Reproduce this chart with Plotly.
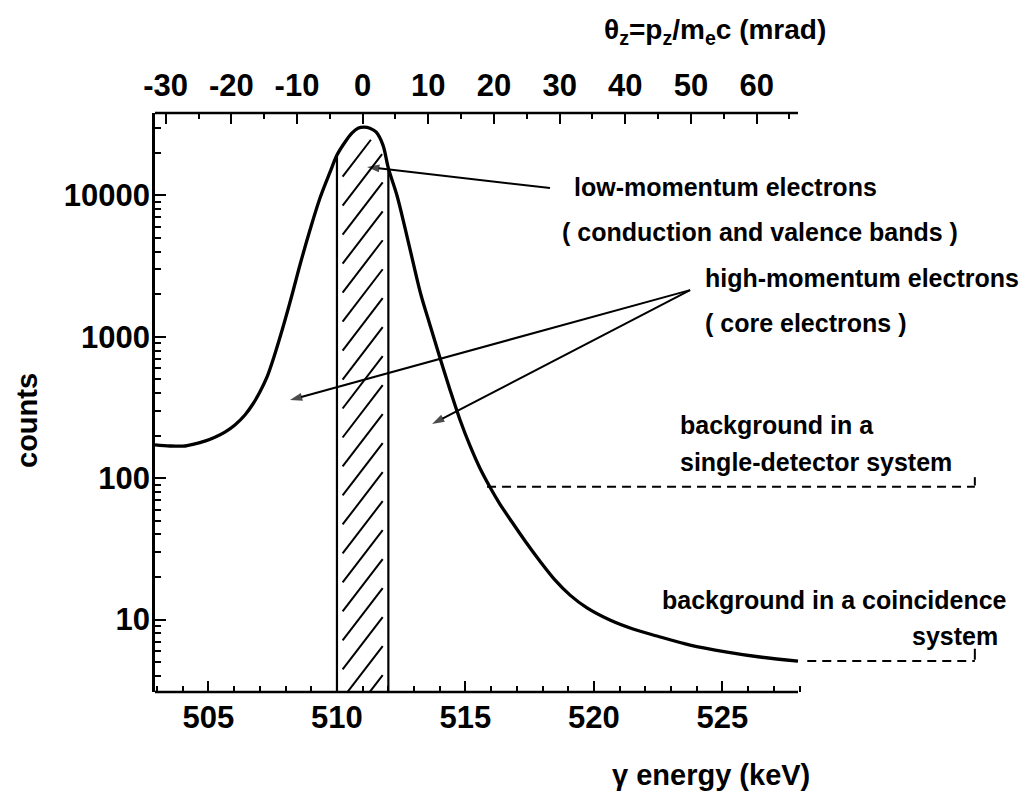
import numpy as np
import plotly.graph_objects as go

# ---------------- data ----------------
energy_kev = [502.92, 503.50, 504.09, 504.47, 504.86, 505.25, 505.64, 506.03, 506.42, 506.73,
              507.00, 507.28, 507.51, 507.74, 507.98, 508.25, 508.56, 508.95, 509.34, 509.73,
              510.00, 510.31, 510.58, 510.82, 511.05, 511.28, 511.52, 511.79, 512.00, 512.33,
              512.65, 512.96, 513.27, 513.62, 514.01, 514.40, 514.79, 515.18, 515.56, 515.95,
              516.34, 516.81, 517.32, 517.90, 518.48, 519.07, 519.73, 520.62, 521.52, 522.45,
              523.74, 525.18, 526.46, 527.94]
counts = [172, 169, 169, 175, 183, 195, 212, 238, 280, 335,
          407, 520, 685, 934, 1314, 1974, 3220, 5690, 9580, 14600,
          19300, 23800, 27600, 29900, 30400, 29900, 28100, 22700, 15600, 10070,
          5880, 3380, 1976, 1212, 708, 421, 258, 169, 118, 86.7,
          65.7, 49.0, 36.0, 25.9, 19.1, 14.9, 12.1, 9.93, 8.58, 7.66,
          6.61, 5.90, 5.44, 5.09]

window_kev = [510.0, 512.0]                 # shaded low-momentum window
bg_single_counts = 87.0                     # single-detector background level
bg_single_kev = [515.84, 534.82]
bg_coinc_counts = 5.1                       # coincidence background level
bg_coinc_kev = [528.3, 534.82]

bottom_ticks = [505, 510, 515, 520, 525]
bottom_minor = [503, 504, 506, 507, 508, 509, 511, 512, 513, 514, 516, 517, 518, 519,
                521, 522, 523, 524, 526, 527, 528]
top_ticks = [-30, -20, -10, 0, 10, 20, 30, 40, 50, 60]
top_minor = [-25, -15, -5, 5, 15, 25, 35, 45, 55, 65]
y_ticks = [10, 100, 1000, 10000]
y_tick_text = ["10", "100", "1000", "10000"]
y_minor = [4, 5, 6, 7, 8, 9, 20, 30, 40, 50, 60, 70, 80, 90,
           200, 300, 400, 500, 600, 700, 800, 900,
           2000, 3000, 4000, 5000, 6000, 7000, 8000, 9000, 20000, 30000]

# arrows: (tip energy, tip counts, tail energy, tail counts)
arrow_low = (511.17, 15900, 518.29, 11270)
arrow_high_1 = (508.17, 357, 523.74, 2140)
arrow_high_2 = (513.70, 242, 523.74, 2140)

E0 = 511.0                      # annihilation line (keV)
MRAD_PER_KEV = 2000.0 / 511.0   # theta_z = 2 dE / (m_e c^2)

# ---------------- layout geometry ----------------
W, H = 1031, 792
ML, MR, MT, MB = 155, 41, 113, 100
X_RANGE = [502.92, 535.41]
AXIS_END = 527.94
Y_RANGE = [0.488, 4.583]
FONT = "Liberation Sans"

PW, PH = W - ML - MR, H - MT - MB


def px(x):
    return (x - ML) / PW


def py(y):
    return 1 - (y - MT) / PH


fig = go.Figure()

# main spectrum
fig.add_trace(go.Scatter(x=energy_kev, y=counts, mode="lines",
                         line=dict(color="black", width=3.3, shape="spline", smoothing=0.9),
                         hoverinfo="skip", showlegend=False))

# window edges
logc = np.log10(counts)
for e in window_kev:
    top = 10 ** np.interp(e, energy_kev, logc)
    fig.add_trace(go.Scatter(x=[e, e], y=[1, top], mode="lines",
                             line=dict(color="black", width=2.2),
                             hoverinfo="skip", showlegend=False))

# hatching inside the window (short diagonal strokes kept under the curve)
hx, hy = [], []
e_a, e_b = window_kev[0] + 0.22, window_kev[1] - 0.22
rise, step, margin = 0.37, 0.205, 0.075
L = Y_RANGE[0] - 0.25
ts = np.linspace(0, 1, 201)
while L < Y_RANGE[1]:
    Es = e_a + (e_b - e_a) * ts
    Ls = L + rise * ts
    ok = Ls < np.interp(Es, energy_kev, logc) - margin
    if ok[0]:
        n = len(ok) if ok.all() else int(np.argmin(ok))
        t_end = ts[n - 1]
        if t_end > 0.2:
            hx += [e_a, e_a + (e_b - e_a) * t_end, None]
            hy += [10 ** L, 10 ** (L + rise * t_end), None]
    L += step
fig.add_trace(go.Scatter(x=hx, y=hy, mode="lines", line=dict(color="black", width=2),
                         hoverinfo="skip", showlegend=False, connectgaps=False))

# background levels (dashed) with little end hooks
for lvl, span, hook in [(bg_single_counts, bg_single_kev, 1.17), (bg_coinc_counts, bg_coinc_kev, 1.22)]:
    fig.add_trace(go.Scatter(x=span, y=[lvl, lvl], mode="lines",
                             line=dict(color="black", width=2, dash="9px,6px"),
                             hoverinfo="skip", showlegend=False))
    fig.add_trace(go.Scatter(x=[span[1], span[1]], y=[lvl * 1.02, lvl * hook], mode="lines",
                             line=dict(color="black", width=2),
                             hoverinfo="skip", showlegend=False))

# arrows drawn as lines ending in an arrow marker
for xt, yt, xa, ya in [arrow_low, arrow_high_1, arrow_high_2]:
    fig.add_trace(go.Scatter(x=[xa, xt], y=[ya, yt], mode="lines+markers",
                             line=dict(color="black", width=2),
                             marker=dict(symbol="arrow", angleref="previous", size=[0, 13],
                                         color="black", line=dict(width=0)),
                             hoverinfo="skip", showlegend=False))

# invisible trace so the top (mrad) axis is drawn
fig.add_trace(go.Scatter(x=[top_ticks[0], top_ticks[-1]], y=[100, 100], xaxis="x2",
                         mode="markers", marker=dict(size=0.1, opacity=0),
                         hoverinfo="skip", showlegend=False))

# axis lines for the energy axes (they stop at the end of the measured range)
for yy in [0, 1]:
    fig.add_shape(type="line", xref="x", yref="paper", x0=X_RANGE[0], x1=AXIS_END, y0=yy, y1=yy,
                  line=dict(color="black", width=2.6))

tickfont = dict(family=FONT, size=31, color="black", weight="bold")
fig.update_layout(
    width=W, height=H,
    margin=dict(l=ML, r=MR, t=MT, b=MB, pad=0),
    paper_bgcolor="white", plot_bgcolor="white",
    showlegend=False,
    xaxis=dict(range=X_RANGE, showgrid=False, zeroline=False, showline=False,
               tickmode="array", tickvals=bottom_ticks, ticktext=[str(t) for t in bottom_ticks],
               ticks="inside", ticklen=11, tickwidth=2, tickcolor="black",
               minor=dict(tickmode="array", tickvals=bottom_minor, ticks="inside",
                          ticklen=6, tickwidth=2, tickcolor="black"),
               tickfont=tickfont, ticklabelstandoff=4),
    xaxis2=dict(overlaying="x", side="top", anchor="y",
                range=[(X_RANGE[0] - E0) * MRAD_PER_KEV, (X_RANGE[1] - E0) * MRAD_PER_KEV],
                showgrid=False, zeroline=False, showline=False,
                tickmode="array", tickvals=top_ticks, ticktext=[str(t) for t in top_ticks],
                ticks="inside", ticklen=11, tickwidth=2, tickcolor="black",
                minor=dict(tickmode="array", tickvals=top_minor, ticks="inside",
                           ticklen=6, tickwidth=2, tickcolor="black"),
                tickfont=tickfont, ticklabelstandoff=10),
    yaxis=dict(type="log", range=Y_RANGE, showgrid=False, zeroline=False,
               showline=True, linecolor="black", linewidth=2.6,
               tickmode="array", tickvals=y_ticks, ticktext=y_tick_text,
               ticks="inside", ticklen=11, tickwidth=2, tickcolor="black",
               minor=dict(tickmode="array", tickvals=y_minor, ticks="inside",
                          ticklen=6, tickwidth=2, tickcolor="black"),
               tickfont=tickfont, ticklabelstandoff=-4),
)

lab = dict(family=FONT, size=25, color="black", weight="bold")
texts = [
    ("low-momentum electrons", 572, 187),
    ("( conduction and valence bands )", 560, 232),
    ("high-momentum electrons", 703, 278),
    ("( core electrons )", 703, 323),
    ("background in a", 678, 425),
    ("single-detector system", 678, 462),
    ("background in a coincidence", 660, 600),
    ("system", 910, 636),
]
for t, x, y in texts:
    fig.add_annotation(text=t, x=px(x), y=py(y), xref="paper", yref="paper",
                       xanchor="left", yanchor="middle", showarrow=False, font=lab)

# axis titles
title_font = dict(family=FONT, size=29, color="black", weight="bold")
fig.add_annotation(text="counts", x=px(27), y=py(421), xref="paper", yref="paper",
                   textangle=-90, xanchor="center", yanchor="middle", showarrow=False,
                   font=title_font)
fig.add_annotation(text="\u03b3 energy (keV)", x=px(711), y=py(775), xref="paper", yref="paper",
                   xanchor="center", yanchor="middle", showarrow=False, font=title_font)
fig.add_annotation(text="\u03b8<sub>z</sub>=p<sub>z</sub>/m<sub>e</sub>c (mrad)",
                   x=px(602), y=py(32), xref="paper", yref="paper",
                   xanchor="left", yanchor="middle", showarrow=False,
                   font=dict(family=FONT, size=28, color="black", weight="bold"))

fig.write_html("out.html")
